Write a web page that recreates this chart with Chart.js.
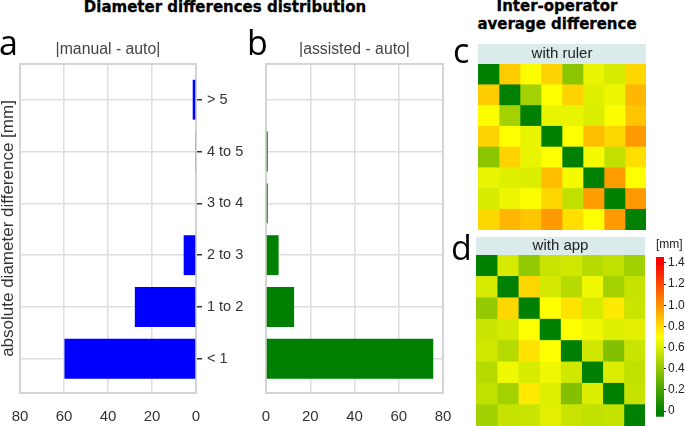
<!DOCTYPE html>
<html>
<head>
<meta charset="utf-8">
<script src="https://cdn.jsdelivr.net/npm/chart.js@4.4.1/dist/chart.umd.min.js"></script>
<style>
body{margin:0;width:685px;height:426px;background:#fff;position:relative;overflow:hidden;font-family:"Liberation Sans",Arial,sans-serif;}
.box{position:absolute;}
.hdr{position:absolute;font-family:"DejaVu Sans",sans-serif;font-weight:bold;font-size:15px;line-height:17.5px;color:#000;text-align:center;-webkit-text-stroke:0.3px #000;white-space:nowrap;}
.lt{position:absolute;font-family:"Open Sans",sans-serif;font-size:34px;line-height:34px;color:#000;}
</style>
</head>
<body>
<div class="hdr" style="left:0;top:-1px;width:450px;">Diameter differences distribution</div>
<div class="hdr" style="left:457px;top:-2px;width:200px;">Inter-operator<br>average difference</div>

<div class="box" style="left:0;top:36px;"><canvas id="chartA" width="262" height="390"></canvas></div>
<div class="box" style="left:250px;top:36px;"><canvas id="chartB" width="205" height="390"></canvas></div>
<div class="box" style="left:478px;top:44px;"><canvas id="heatC" width="168" height="186"></canvas></div>
<div class="box" style="left:476px;top:237px;"><canvas id="heatD" width="169" height="189"></canvas></div>
<div class="box" style="left:640px;top:236px;"><canvas id="cbar" width="45" height="190"></canvas></div>

<div class="lt" style="left:-1px;top:25px;">a</div>
<div class="lt" style="left:247px;top:25px;">b</div>
<div class="lt" style="left:453px;top:33px;">c</div>
<div class="lt" style="left:451px;top:230px;">d</div>

<script>
// diameter difference classes, bottom to top
const categories = ['< 1', '1 to 2', '2 to 3', '3 to 4', '4 to 5', '> 5'];
const manualAuto = [59.8, 27.8, 5.6, 0, 0.4, 1.5];
const assistedAuto = [75.6, 12.7, 5.7, 0.8, 0.8, 0];
const countTicks = [0, 20, 40, 60, 80];

// inter-operator average difference [mm], 8 x 8, symmetric
const rulerMatrix = [
  [0, 0.84, 0.69, 0.82, 0.38, 0.64, 0.59, 0.81],
  [0.84, 0, 0.45, 0.70, 0.82, 0.61, 0.65, 0.90],
  [0.69, 0.45, 0, 0.64, 0.64, 0.60, 0.69, 0.86],
  [0.82, 0.70, 0.64, 0, 0.70, 0.88, 0.81, 0.98],
  [0.38, 0.82, 0.64, 0.70, 0, 0.67, 0.53, 0.79],
  [0.64, 0.61, 0.60, 0.88, 0.67, 0, 0.97, 0.70],
  [0.59, 0.65, 0.69, 0.81, 0.53, 0.97, 0, 0.98],
  [0.81, 0.90, 0.86, 0.98, 0.79, 0.70, 0.98, 0]
];
const appMatrix = [
  [0, 0.59, 0.40, 0.55, 0.57, 0.50, 0.53, 0.44],
  [0.59, 0, 0.81, 0.58, 0.50, 0.66, 0.45, 0.54],
  [0.40, 0.81, 0, 0.70, 0.78, 0.59, 0.76, 0.55],
  [0.55, 0.58, 0.70, 0, 0.70, 0.66, 0.61, 0.62],
  [0.57, 0.50, 0.78, 0.70, 0, 0.57, 0.36, 0.55],
  [0.50, 0.66, 0.59, 0.66, 0.57, 0, 0.60, 0.53],
  [0.53, 0.45, 0.76, 0.61, 0.36, 0.60, 0, 0.54],
  [0.44, 0.54, 0.55, 0.62, 0.55, 0.53, 0.54, 0]
];

// colour map green -> yellow -> red
const cmapStops = [0, 0.7, 1.4];
const cmapColors = [[0, 128, 0], [255, 255, 0], [255, 0, 0]];
const colorTicks = [0, 0.2, 0.4, 0.6, 0.8, 1.0, 1.2, 1.4];
const cbMin = -0.054, cbMax = 1.456;

Chart.defaults.font.family = '"Liberation Sans", Arial, sans-serif';
Chart.defaults.color = '#333';

function valueColor(v){
	let i = v <= cmapStops[1] ? 0 : 1;
	let t = (v - cmapStops[i]) / (cmapStops[i+1] - cmapStops[i]);
	t = Math.max(0, Math.min(1, t));
	const a = cmapColors[i], b = cmapColors[i+1];
	const c = a.map((x, k) => Math.round(x + (b[k] - x) * t));
	return `rgb(${c[0]},${c[1]},${c[2]})`;
}

const framePlugin = {
	id: 'frame',
	beforeDatasetsDraw(chart, args, opts){
		const a = chart.chartArea, ctx = chart.ctx;
		ctx.save();
		ctx.strokeStyle = opts.color;
		ctx.lineWidth = opts.width;
		ctx.strokeRect(a.left, a.top, a.right - a.left, a.bottom - a.top);
		ctx.restore();
	}
};

const stripPlugin = {
	id: 'strip',
	beforeDraw(chart, args, opts){
		const a = chart.chartArea, ctx = chart.ctx;
		ctx.save();
		ctx.fillStyle = opts.color;
		ctx.fillRect(a.left, 0, a.right - a.left, a.top);
		ctx.restore();
	}
};

const gridStyle = { color: '#dedede', lineWidth: 1.5 };

function barPanel(id, values, color, title, reverse, extra){
	const scales = {
		x: {
			type: 'linear', reverse: reverse, min: 0, max: 80,
			afterBuildTicks: s => { s.ticks = countTicks.map(v => ({value: v})); },
			afterFit: s => { s.height = 33; s.paddingLeft = 0; s.paddingRight = 0; },
			grid: Object.assign({ drawTicks: false }, gridStyle),
			border: { display: false },
			ticks: { font: { size: 15 }, color: '#333', padding: 15 }
		},
		y: {
			type: 'linear', position: 'right', min: -0.66, max: 5.69, offset: false,
			afterBuildTicks: s => { s.ticks = categories.map((c, i) => ({value: i})); },
			ticks: { display: extra.labels, callback: v => categories[v], font: { size: 14.5 }, color: '#333', padding: 5 },
			grid: Object.assign({ offset: false, drawTicks: extra.labels, tickColor: '#333', tickLength: 6, tickWidth: 1.5 }, gridStyle),
			border: { display: false },
			afterFit: s => { s.width = extra.rightWidth; s.paddingTop = 0; s.paddingBottom = 0; }
		}
	};
	if(extra.yTitle){
		scales.yl = {
			type: 'linear', position: 'left', min: 0, max: 1,
			ticks: { display: false }, grid: { display: false }, border: { display: false },
			title: { display: true, text: extra.yTitle, font: { size: 17 }, color: '#333', padding: { top: -2, bottom: 0 } },
			afterFit: s => { s.width = 20; }
		};
	}
	return new Chart(document.getElementById(id), {
		type: 'bar',
		data: {
			datasets: [{
				data: values.map((v, i) => ({x: v, y: i})),
				backgroundColor: color,
				borderWidth: 0,
				barPercentage: 0.77,
				categoryPercentage: 1
			}]
		},
		plugins: [framePlugin],
		options: {
			indexAxis: 'y',
			responsive: false,
			animation: false,
			events: [],
			layout: { padding: { left: extra.padLeft } },
			plugins: {
				legend: { display: false },
				tooltip: { enabled: false },
				title: { display: true, text: title, fullSize: false, color: '#444', font: { size: 15.8, weight: 'normal' }, padding: { top: 4, bottom: 5 } },
				frame: { color: '#d4d4d4', width: 2 }
			},
			scales: scales
		}
	});
}

barPanel('chartA', manualAuto, '#0000ff', '|manual - auto|', true,
	{ labels: true, rightWidth: 66, padLeft: 0, yTitle: 'absolute diameter difference [mm]' });
barPanel('chartB', assistedAuto, '#008000', '|assisted - auto|', false,
	{ labels: false, rightWidth: 12, padLeft: 16 });

function heatmap(id, matrix, label, pad){
	return new Chart(document.getElementById(id), {
		type: 'bar',
		data: {
			labels: matrix.map((r, i) => i),
			datasets: matrix[0].map((_, j) => ({
				data: matrix.map(() => 1),
				backgroundColor: matrix.map(row => valueColor(row[j])),
				borderWidth: 0,
				barPercentage: 1,
				categoryPercentage: 1
			}))
		},
		plugins: [stripPlugin],
		options: {
			indexAxis: 'y',
			responsive: false,
			animation: false,
			events: [],
			layout: { padding: 0 },
			plugins: {
				legend: { display: false },
				tooltip: { enabled: false },
				title: { display: true, text: label, color: '#222', font: { size: 15, weight: 'normal' }, padding: pad },
				strip: { color: '#dbeaea' }
			},
			scales: {
				x: { stacked: true, min: 0, max: matrix.length, display: false },
				y: { stacked: true, display: false }
			}
		}
	});
}

heatmap('heatC', rulerMatrix, 'with ruler', { top: 1, bottom: 1 });
heatmap('heatD', appMatrix, 'with app', { top: 0, bottom: 0 });

new Chart(document.getElementById('cbar'), {
	type: 'bar',
	data: {
		labels: [''],
		datasets: [{
			data: [[cbMin, cbMax]],
			backgroundColor: c => {
				const ch = c.chart;
				if(!ch.chartArea) return valueColor(0);
				const y = ch.scales.y;
				const g = ch.ctx.createLinearGradient(0, y.getPixelForValue(cmapStops[0]), 0, y.getPixelForValue(cmapStops[2]));
				cmapStops.forEach((s, i) => {
					const col = cmapColors[i];
					g.addColorStop(s / cmapStops[2], `rgb(${col[0]},${col[1]},${col[2]})`);
				});
				return g;
			},
			borderWidth: 0,
			barPercentage: 1,
			categoryPercentage: 1
		}]
	},
	options: {
		responsive: false,
		animation: false,
		events: [],
		layout: { padding: { left: 16 } },
		plugins: {
			legend: { display: false },
			tooltip: { enabled: false },
			title: { display: true, text: '[mm]', align: 'start', color: '#222', font: { size: 12, weight: 'normal' }, padding: { top: 1.8, bottom: 4.8 } }
		},
		scales: {
			x: { display: false },
			y: {
				position: 'right', min: cbMin, max: cbMax,
				afterBuildTicks: s => { s.ticks = colorTicks.map(v => ({value: v})); },
				ticks: { callback: v => v === 0 ? '0' : v.toFixed(1), font: { size: 12 }, color: '#222', padding: 2 },
				grid: { drawOnChartArea: false, tickLength: 2, tickColor: '#222' },
				border: { display: false },
				afterFit: s => { s.width = 21; }
			}
		}
	}
});
</script>
</body>
</html>
